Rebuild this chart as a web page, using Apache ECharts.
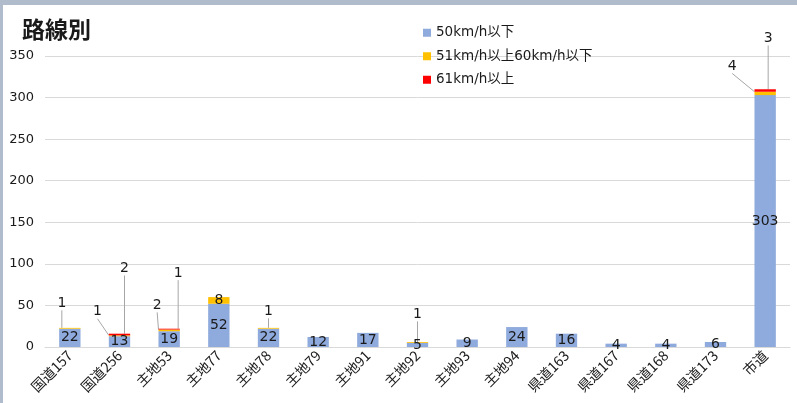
<!DOCTYPE html>
<html><head><meta charset="utf-8">
<script src="https://cdn.jsdelivr.net/npm/echarts@6/dist/echarts.min.js"></script>
<style>
html,body{margin:0;padding:0;background:#fff;}
#c{position:absolute;left:0;top:0;width:797px;height:403px;box-sizing:border-box;border-top:5px solid #B0BBCC;border-left:3px solid #B0BBCC;background:#fff;}
</style></head>
<body><div id="c"></div>
<script>
const categories = ['国道157','国道256','主地53','主地77','主地78','主地79','主地91','主地92','主地93','主地94','県道163','県道167','県道168','県道173','市道'];
const seriesNames = ['50km/h以下','51km/h以上60km/h以下','61km/h以上'];
const slow = [22,13,19,52,22,12,17,5,9,24,16,4,4,6,303];
const mid  = [1,1,2,8,1,0,0,1,0,0,0,0,0,0,4];
const fast = [0,2,1,0,0,0,0,0,0,0,0,0,0,0,3];
const yTicks = {min:0, max:350, interval:50};

// label offsets (pixels) for small segments whose labels sit outside with leader lines
const midLabelShift = {0:[-8,-25],1:[-22,-24],2:[-12,-25],4:[0,-17],7:[0,-28],14:[-33,-27]};
const fastLabelShift = {1:[5,-66],2:[9,-56],14:[3,-52]};

const font = '"Noto Sans CJK JP","Noto Sans",sans-serif';
const wideFont = '"DejaVu Sans","Noto Sans CJK JP",sans-serif';
const chart = echarts.init(document.getElementById('c'));
const nz = v => v === 0 ? '-' : v;
function layoutFn(shift){
  return function(p){
    const s = shift[p.dataIndex];
    if(!s) return {};
    return {dx:s[0], dy:s[1]};
  };
}
const lbl = {show:true, position:'inside', color:'#1a1a1a', fontSize:14, fontFamily:wideFont,
  formatter: p => (p.value === 0 || p.value === '-') ? '' : p.value};
const lline = {show:true, lineStyle:{color:'#A6A6A6', width:1}, length2:0};
chart.setOption({
  animation:false,
  textStyle:{fontFamily:font},
  title:{text:'路線別', left:14, top:8, textStyle:{fontSize:23, fontWeight:'bold', color:'#1a1a1a', fontFamily:font}},
  legend:{orient:'vertical', left:415, top:16, itemWidth:8, itemHeight:8, itemGap:10, icon:'rect',
    textStyle:{fontSize:13.5, color:'#1a1a1a', fontFamily:wideFont}, data:seriesNames},
  grid:{left:42, right:7, top:51, bottom:56, containLabel:false},
  xAxis:{type:'category', data:categories,
    axisLine:{lineStyle:{color:'#D9D9D9'}}, axisTick:{show:false},
    axisLabel:{rotate:45, fontSize:14, color:'#1a1a1a', margin:6, interval:0, fontFamily:font}},
  yAxis:{type:'value', min:yTicks.min, max:yTicks.max, interval:yTicks.interval,
    axisLine:{show:false}, axisTick:{show:false},
    axisLabel:{fontSize:13, color:'#1a1a1a', margin:11, fontFamily:wideFont},
    splitLine:{lineStyle:{color:'#D9D9D9'}}},
  series:[
    {name:seriesNames[0], type:'bar', stack:'a', barWidth:'43%', data:slow,
     itemStyle:{color:'#8FAADC'}, label:lbl},
    {name:seriesNames[1], type:'bar', stack:'a', data:mid.map(nz),
     itemStyle:{color:'#FFC000'}, label:lbl, labelLine:lline, labelLayout:layoutFn(midLabelShift)},
    {name:seriesNames[2], type:'bar', stack:'a', data:fast.map(nz),
     itemStyle:{color:'#FF0000'}, label:lbl, labelLine:lline, labelLayout:layoutFn(fastLabelShift)}
  ]
});
</script></body></html>
